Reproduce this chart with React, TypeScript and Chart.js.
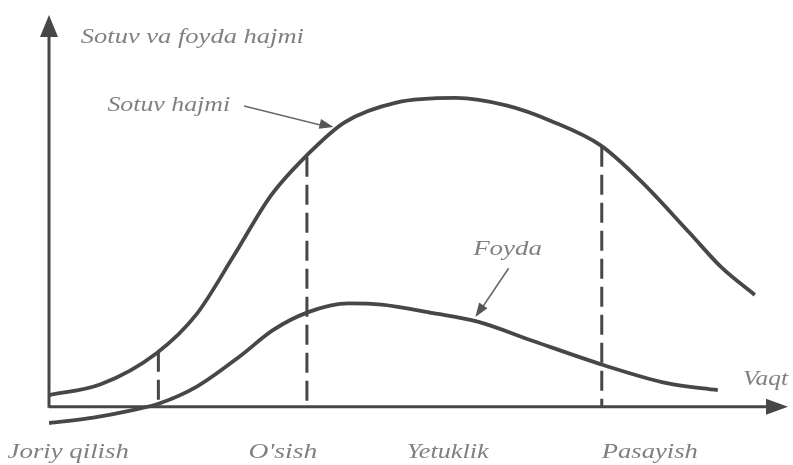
import React, { useEffect, useRef } from "react";
import { Chart, registerables } from "chart.js";

Chart.register(...registerables);

// Sales volume curve (time, volume)
const salesX = [0, 7, 14.6, 20, 25, 30, 34.9, 40, 47, 55, 62, 68, 74.6, 80, 86.7, 91, 95.5];
const salesY = [3.0, 5.8, 13.9, 24.0, 39.0, 54.5, 65.0, 73.5, 78.6, 79.8, 77.8, 73.8, 67.6, 58.5, 44.9, 36.0, 28.9];

// Profit curve
const profitX = [0, 6, 11, 15, 20, 25.8, 30.3, 35, 40.5, 45, 52, 58, 65.5, 75, 83.6, 90.5];
const profitY = [-4.2, -2.8, -1.0, 0.9, 5.2, 13.0, 19.8, 24.4, 26.7, 26.4, 24.2, 22.0, 17.0, 10.8, 6.1, 4.3];

// Stage boundaries (dashed lines) and where they meet the sales curve
const stageBoundaries = [14.8, 34.9, 74.8];
const boundaryTops = [14.2, 64.6, 67.2];

// Stage names along the time axis
const stageLabels = ["Joriy qilish", "O'sish", "Yetuklik", "Pasayish"];
const stageLabelLeft = [-5.6, 27.0, 48.4, 74.8];
const stageLabelRight = [10.8, 36.3, 59.5, 87.8];

const yAxisTitle = "Sotuv va foyda hajmi";
const xAxisTitle = "Vaqt";
const salesName = "Sotuv hajmi";
const profitName = "Foyda";

const LINE = "#474747";
const TEXT = "#808080";
const FONT = 'italic 22px "Liberation Serif", "Times New Roman", serif';

function drawText(ctx: CanvasRenderingContext2D, text: string, left: number, right: number, baseline: number) {
  ctx.save();
  ctx.font = FONT;
  ctx.fillStyle = TEXT;
  ctx.textBaseline = "alphabetic";
  ctx.textAlign = "left";
  const w = ctx.measureText(text).width;
  const target = right - left;
  ctx.translate(left, baseline);
  ctx.scale(target / w, 1);
  ctx.fillText(text, 0, 0);
  ctx.restore();
}

function arrowHead(ctx: CanvasRenderingContext2D, x0: number, y0: number, x1: number, y1: number, len: number, half: number, color: string) {
  const a = Math.atan2(y1 - y0, x1 - x0);
  ctx.save();
  ctx.fillStyle = color;
  ctx.beginPath();
  ctx.moveTo(x1, y1);
  ctx.lineTo(x1 - len * Math.cos(a) + half * Math.sin(a), y1 - len * Math.sin(a) - half * Math.cos(a));
  ctx.lineTo(x1 - len * Math.cos(a) - half * Math.sin(a), y1 - len * Math.sin(a) + half * Math.cos(a));
  ctx.closePath();
  ctx.fill();
  ctx.restore();
}

const decorPlugin = {
  id: "decor",
  beforeDatasetsDraw(chart: any) {
    const ctx: CanvasRenderingContext2D = chart.ctx;
    const xs = chart.scales.x;
    const ys = chart.scales.y;
    const px = (v: number) => xs.getPixelForValue(v);
    const py = (v: number) => ys.getPixelForValue(v);

    ctx.save();
    ctx.strokeStyle = LINE;
    ctx.lineWidth = 3;
    ctx.lineCap = "butt";
    ctx.beginPath();
    ctx.moveTo(px(0), py(0) + 1);
    ctx.lineTo(px(0), py(96));
    ctx.stroke();
    arrowHead(ctx, px(0), py(0), px(0), py(101.2), 22, 9, LINE);

    ctx.beginPath();
    ctx.moveTo(px(0), py(0));
    ctx.lineTo(px(97.5), py(0));
    ctx.stroke();
    arrowHead(ctx, px(0), py(0), px(100), py(0), 22, 8, LINE);

    ctx.setLineDash([20, 8]);
    ctx.lineWidth = 3;
    stageBoundaries.forEach((b, i) => {
      ctx.beginPath();
      ctx.moveTo(px(b), py(boundaryTops[i]));
      ctx.lineTo(px(b), py(0));
      ctx.stroke();
    });
    ctx.setLineDash([]);

    drawText(ctx, yAxisTitle, px(4.3), px(34.5), py(94.0));
    drawText(ctx, salesName, px(7.9), px(24.5), py(76.4));
    drawText(ctx, profitName, px(57.4), px(66.7), py(39.2));
    drawText(ctx, xAxisTitle, px(93.9), px(100), py(5.6));
    stageLabels.forEach((s, i) => {
      drawText(ctx, s, px(stageLabelLeft[i]), px(stageLabelRight[i]), py(-13.2));
    });

    ctx.strokeStyle = "#6a6a6a";
    ctx.lineWidth = 1.6;
    ctx.beginPath();
    ctx.moveTo(px(26.4), py(77.7));
    ctx.lineTo(px(37.0), py(72.7));
    ctx.stroke();
    arrowHead(ctx, px(26.4), py(77.7), px(38.5), py(72.3), 14, 5, "#555");

    ctx.beginPath();
    ctx.moveTo(px(62.2), py(35.8));
    ctx.lineTo(px(58.4), py(25.0));
    ctx.stroke();
    arrowHead(ctx, px(62.2), py(35.8), px(57.7), py(23.2), 14, 5, "#555");
    ctx.restore();
  },
};

export default function App() {
  const ref = useRef<HTMLCanvasElement | null>(null);

  useEffect(() => {
    document.body.style.margin = "0";
    document.body.style.background = "#ffffff";
    const canvas = ref.current;
    if (!canvas) return;
    const chart = new Chart(canvas, {
      type: "line",
      data: {
        datasets: [
          {
            label: salesName,
            data: salesX.map((x, i) => ({ x, y: salesY[i] })),
            borderColor: LINE,
            borderWidth: 3.8,
            pointRadius: 0,
            cubicInterpolationMode: "monotone",
            fill: false,
          },
          {
            label: profitName,
            data: profitX.map((x, i) => ({ x, y: profitY[i] })),
            borderColor: LINE,
            borderWidth: 3.8,
            pointRadius: 0,
            cubicInterpolationMode: "monotone",
            fill: false,
          },
        ],
      },
      options: {
        animation: false,
        responsive: false,
        devicePixelRatio: 1,
        layout: { padding: { left: 49, right: 5, top: 12, bottom: 35 } },
        plugins: { legend: { display: false }, tooltip: { enabled: false } },
        scales: {
          x: { type: "linear", min: 0, max: 100, display: false },
          y: { type: "linear", min: -6, max: 102, display: false },
        },
      },
      plugins: [decorPlugin],
    } as any);
    if ((document as any).fonts) {
      (document as any).fonts.load(FONT).then(() => chart.draw()).catch(() => {});
    }
    return () => chart.destroy();
  }, []);

  return (
    <div style={{ position: "fixed", left: 0, top: 0, width: 793, height: 465, background: "#fff" }}>
      <canvas ref={ref} width={793} height={465} style={{ width: 793, height: 465 }} />
    </div>
  );
}
